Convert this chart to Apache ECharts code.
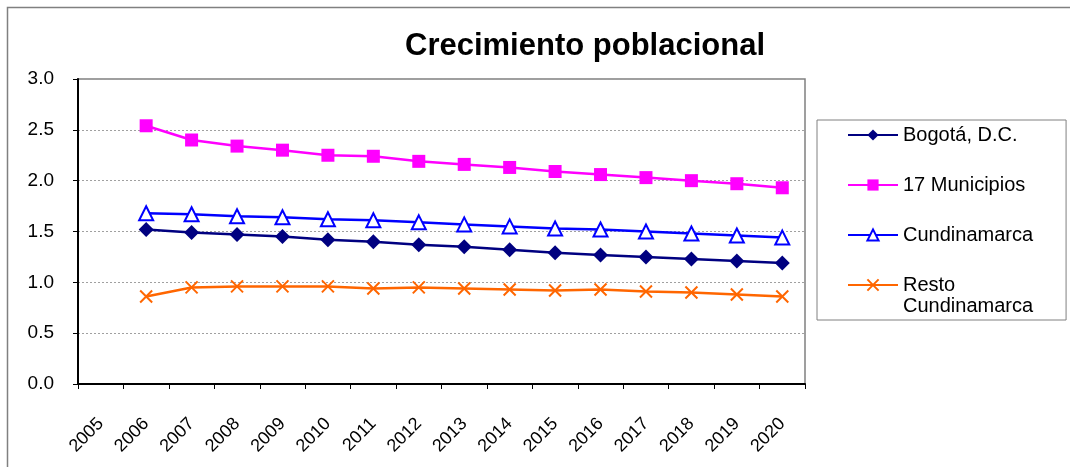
<!DOCTYPE html>
<html>
<head>
<meta charset="utf-8">
<script src="https://cdn.jsdelivr.net/npm/echarts@6/dist/echarts.min.js"></script>
<style>
  html, body { margin: 0; padding: 0; background: #fff; }
  #chart { width: 1070px; height: 467px; }
</style>
</head>
<body>
<div id="chart"></div>
<script>
  // datos
  const years = ['2005', '2006', '2007', '2008', '2009', '2010', '2011', '2012',
    '2013', '2014', '2015', '2016', '2017', '2018', '2019', '2020']
  const bogota = [null, 1.52, 1.49, 1.47, 1.45, 1.42, 1.40, 1.37, 1.35, 1.32, 1.29, 1.27, 1.25, 1.23, 1.21, 1.19]
  const municipios = [null, 2.54, 2.40, 2.34, 2.30, 2.25, 2.24, 2.19, 2.16, 2.13, 2.09, 2.06, 2.03, 2.00, 1.97, 1.93]
  const cundinamarca = [null, 1.68, 1.67, 1.65, 1.64, 1.62, 1.61, 1.59, 1.57, 1.55, 1.53, 1.52, 1.50, 1.48, 1.46, 1.44]
  const resto = [null, 0.86, 0.95, 0.96, 0.96, 0.96, 0.94, 0.95, 0.94, 0.93, 0.92, 0.93, 0.91, 0.90, 0.88, 0.86]
  const seriesNames = ['Bogotá, D.C.', '17 Municipios', 'Cundinamarca', 'Resto Cundinamarca']

  const font = 'Arial, "Liberation Sans", sans-serif'
  const chart = echarts.init(document.getElementById('chart'))

  function lineSeries(name, data, color, symbol, size, itemStyle) {
    return {
      name: name,
      type: 'line',
      data: data,
      symbol: symbol,
      symbolSize: size,
      connectNulls: false,
      animation: false,
      lineStyle: { color: color, width: 2.5 },
      itemStyle: itemStyle || { color: color }
    }
  }

  chart.setOption({
    backgroundColor: '#fff',
    title: {
      text: 'Crecimiento poblacional',
      left: 400,
      top: 26,
      textStyle: { fontFamily: font, fontSize: 31, fontWeight: 'bold', color: '#000' }
    },
    grid: {
      left: 78,
      right: 265,
      top: 79,
      bottom: 83,
      show: true,
      borderColor: '#808080',
      borderWidth: 1.5
    },
    legend: {
      orient: 'vertical',
      left: 817,
      top: 120,
      padding: [4, 33, 4, 30],
      itemGap: 28,
      itemWidth: 50,
      itemHeight: 14,
      borderColor: '#808080',
      borderWidth: 1,
      textStyle: {
        fontFamily: font,
        fontSize: 20,
        color: '#000',
        lineHeight: 22,
        rich: {
          // primera linea alineada con el icono, la segunda debajo
          l1: { fontFamily: font, fontSize: 20, color: '#000', lineHeight: 22 },
          l2: { fontFamily: font, fontSize: 20, color: '#000', lineHeight: 0, verticalAlign: 'top' }
        }
      },
      formatter: function (name) {
        return name === 'Resto Cundinamarca' ? '{l1|Resto}\n{l2|Cundinamarca}' : name
      },
      data: seriesNames
    },
    xAxis: {
      type: 'category',
      data: years,
      boundaryGap: true,
      axisLine: { lineStyle: { color: '#000', width: 2 } },
      axisTick: { show: true, length: 5, interval: 0, lineStyle: { color: '#000' } },
      axisLabel: {
        interval: 0,
        rotate: 45,
        margin: 37,
        fontFamily: font,
        fontSize: 18,
        color: '#000'
      },
      splitLine: { show: false }
    },
    yAxis: {
      type: 'value',
      min: 0,
      max: 3,
      interval: 0.5,
      axisLine: { show: true, lineStyle: { color: '#000', width: 2 } },
      axisTick: { show: true, length: 5, lineStyle: { color: '#000' } },
      axisLabel: {
        margin: 24,
        fontFamily: font,
        fontSize: 19,
        color: '#000',
        formatter: v => v.toFixed(1)
      },
      splitLine: { show: true, lineStyle: { color: '#a0a0a0', width: 1, type: [2, 2] } }
    },
    graphic: [{
      type: 'rect',
      silent: true,
      shape: { x: 7.5, y: 7.5, width: 1100, height: 500 },
      style: { fill: 'none', stroke: '#808080', lineWidth: 1.5 }
    }],
    series: [
      lineSeries(seriesNames[0], bogota, '#000080', 'diamond', 15),
      lineSeries(seriesNames[1], municipios, '#ff00ff', 'rect', 13),
      lineSeries(seriesNames[2], cundinamarca, '#0000ff', 'triangle', 14,
        { color: '#fff', borderColor: '#0000ff', borderWidth: 2 }),
      lineSeries(seriesNames[3], resto, '#ff6600', 'path://M0,0L10,10M10,0L0,10', 12,
        { color: '#ff6600', borderColor: '#ff6600', borderWidth: 2 })
    ]
  })
</script>
</body>
</html>
